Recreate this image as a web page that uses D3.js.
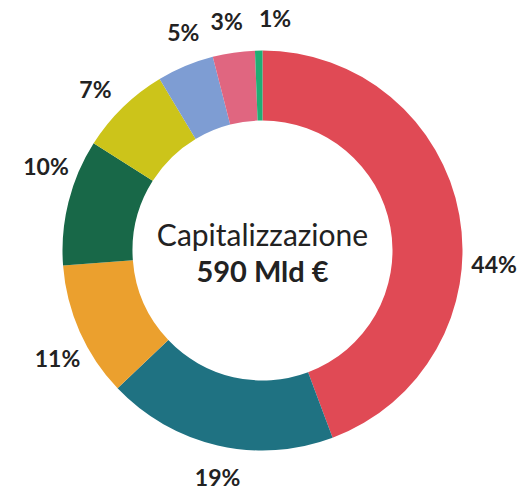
<!DOCTYPE html>
<html>
<head>
<meta charset="utf-8">
<script src="https://cdnjs.cloudflare.com/ajax/libs/d3/7.8.5/d3.min.js"></script>
<style>
  body { margin: 0; background: #fff; }
  svg { display: block; font-family: Lato, "Open Sans", sans-serif; }
  .lbl { font-weight: bold; font-size: 23px; fill: #222; }
</style>
</head>
<body>
<script>
// slices, clockwise from 12 o'clock
const segments = ["s1", "s2", "s3", "s4", "s5", "s6", "s7", "s8"];
const shares = [44.3, 18.6, 10.9, 10.2, 7.4, 4.6, 3.4, 0.6];
const labels = ["44%", "19%", "11%", "10%", "7%", "5%", "3%", "1%"];
const colours = ["#e04a55", "#1f7282", "#eba02e", "#186848", "#ccc41a", "#7e9dd3", "#e06680", "#1fae74"];
const centreTitle = "Capitalizzazione";
const centreValue = "590 Mld €";

const w = 519, h = 489;
const cx = 262.5, cy = 250.5;
const rOut = 200, rIn = 130, rLbl = 232;
// labels were hand-nudged around the ring in the original (degrees)
const nudge = [13.7, -1.8, -4, 7, -1.8, 2.7, -0.6, 4.2];

const svg = d3.select("body").append("svg")
  .attr("width", w)
  .attr("height", h);

const g = svg.append("g").attr("transform", "translate(" + cx + "," + cy + ")");

const pie = d3.pie().sort(null).value((d, i) => shares[i]);
const arcs = pie(segments);

const arc = d3.arc().innerRadius(rIn).outerRadius(rOut);

g.selectAll("path")
  .data(arcs)
  .enter()
  .append("path")
  .attr("d", arc)
  .attr("fill", (d, i) => colours[i]);

const lblPos = (d, i) => {
  const a = (d.startAngle + d.endAngle) / 2 + nudge[i] * Math.PI / 180;
  return [rLbl * Math.sin(a), -rLbl * Math.cos(a)];
};

g.selectAll("text.lbl")
  .data(arcs)
  .enter()
  .append("text")
  .attr("class", "lbl")
  .attr("transform", (d, i) => "translate(" + lblPos(d, i) + ")")
  .attr("text-anchor", "middle")
  .attr("dy", "0.36em")
  .text((d, i) => labels[i]);

g.append("text")
  .attr("text-anchor", "middle")
  .attr("y", -5)
  .attr("font-size", 30)
  .attr("fill", "#222")
  .text(centreTitle);

g.append("text")
  .attr("text-anchor", "middle")
  .attr("y", 31)
  .attr("font-size", 29)
  .attr("font-weight", "bold")
  .attr("fill", "#222")
  .text(centreValue);
</script>
</body>
</html>
